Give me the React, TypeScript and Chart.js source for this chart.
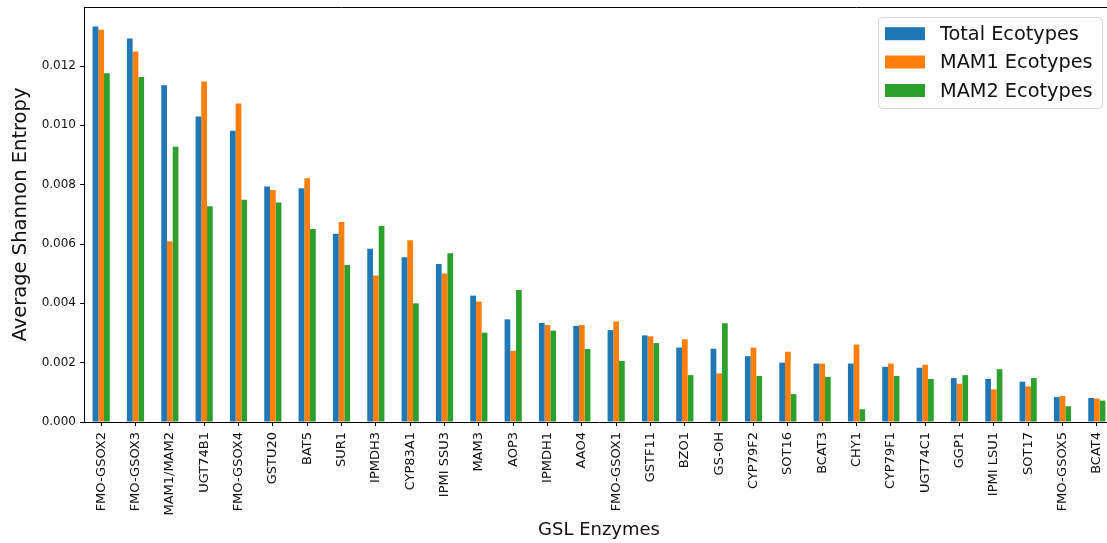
import React, { useEffect, useRef } from "react";
import { Chart, registerables } from "chart.js";

Chart.register(...registerables);

// GSL enzymes, sorted by average Shannon entropy across all ecotypes
const categories = [
  "FMO-GSOX2", "FMO-GSOX3", "MAM1/MAM2", "UGT74B1", "FMO-GSOX4", "GSTU20",
  "BAT5", "SUR1", "IPMDH3", "CYP83A1", "IPMI SSU3", "MAM3", "AOP3", "IPMDH1",
  "AAO4", "FMO-GSOX1", "GSTF11", "BZO1", "GS-OH", "CYP79F2", "SOT16", "BCAT3",
  "CHY1", "CYP79F1", "UGT74C1", "GGP1", "IPMI LSU1", "SOT17", "FMO-GSOX5", "BCAT4",
];

const totalEcotypes = [
  0.01333, 0.01293, 0.01135, 0.0103, 0.00982, 0.00794, 0.00788, 0.00635, 0.00584, 0.00555,
  0.00533, 0.00426, 0.00346, 0.00334, 0.00324, 0.0031, 0.00292, 0.00251, 0.00247, 0.00222,
  0.002, 0.00197, 0.00197, 0.00186, 0.00183, 0.00148, 0.00145, 0.00136, 0.00084, 0.00081,
];

const mam1Ecotypes = [
  0.01322, 0.01249, 0.00609, 0.01148, 0.01074, 0.00782, 0.00822, 0.00674, 0.00494, 0.00613,
  0.00501, 0.00406, 0.0024, 0.00327, 0.00327, 0.00339, 0.00289, 0.00279, 0.00164, 0.00251,
  0.00237, 0.00197, 0.00261, 0.00197, 0.00193, 0.00129, 0.0011, 0.0012, 0.00088, 0.00079,
];

const mam2Ecotypes = [
  0.01176, 0.01163, 0.00928, 0.00727, 0.00749, 0.0074, 0.00651, 0.00529, 0.00661, 0.004,
  0.00569, 0.00301, 0.00445, 0.00308, 0.00246, 0.00206, 0.00266, 0.00158, 0.00333, 0.00155,
  0.00094, 0.00152, 0.00043, 0.00155, 0.00145, 0.00158, 0.00178, 0.00148, 0.00053, 0.00072,
];

const seriesLabels = ["Total Ecotypes", "MAM1 Ecotypes", "MAM2 Ecotypes"];
const seriesColors = ["#1f77b4", "#ff7f0e", "#2ca02c"];
const yTickValues = [0, 0.002, 0.004, 0.006, 0.008, 0.01, 0.012];
const yMax = 0.01399;

const FONT = "'DejaVu Sans', 'Liberation Sans', sans-serif";
const CANVAS_W = 1125;
const CANVAS_H = 543;

// Frame line, axis titles and the legend box
const decorations = {
  id: "decorations",
  afterDraw(chart: any) {
    const { ctx, chartArea } = chart;
    const { left, top, right, bottom } = chartArea;
    ctx.save();

    // top spine
    ctx.strokeStyle = "#000";
    ctx.lineWidth = 1;
    ctx.beginPath();
    ctx.moveTo(left, Math.round(top) + 0.5);
    ctx.lineTo(right, Math.round(top) + 0.5);
    ctx.stroke();

    // axis titles
    ctx.fillStyle = "#111";
    ctx.textAlign = "center";
    ctx.textBaseline = "middle";
    ctx.font = `18px ${FONT}`;
    ctx.fillText("GSL Enzymes", (left + right) / 2, 530);

    ctx.save();
    ctx.translate(21, (top + bottom) / 2);
    ctx.rotate(-Math.PI / 2);
    ctx.font = `19.5px ${FONT}`;
    ctx.fillText("Average Shannon Entropy", 0, 0);
    ctx.restore();

    // legend
    const bx = 878.5, by = 17.5, bw = 224, bh = 91, r = 4;
    ctx.beginPath();
    ctx.moveTo(bx + r, by);
    ctx.lineTo(bx + bw - r, by);
    ctx.arcTo(bx + bw, by, bx + bw, by + r, r);
    ctx.lineTo(bx + bw, by + bh - r);
    ctx.arcTo(bx + bw, by + bh, bx + bw - r, by + bh, r);
    ctx.lineTo(bx + r, by + bh);
    ctx.arcTo(bx, by + bh, bx, by + bh - r, r);
    ctx.lineTo(bx, by + r);
    ctx.arcTo(bx, by, bx + r, by, r);
    ctx.closePath();
    ctx.fillStyle = "rgba(255,255,255,0.8)";
    ctx.fill();
    ctx.strokeStyle = "#d6d6d6";
    ctx.stroke();

    const rowY = [33.7, 62, 90.5];
    ctx.textAlign = "left";
    ctx.textBaseline = "middle";
    ctx.font = `19.3px ${FONT}`;
    chart.data.datasets.forEach((ds: any, i: number) => {
      ctx.fillStyle = ds.backgroundColor;
      ctx.fillRect(885, rowY[i] - 6.5, 40, 13);
      ctx.fillStyle = "#111";
      ctx.fillText(ds.label, 940, rowY[i] + 1);
    });

    ctx.restore();
  },
};

export default function App() {
  const canvasRef = useRef<HTMLCanvasElement | null>(null);

  useEffect(() => {
    const canvas = canvasRef.current;
    if (!canvas) return;
    const seriesData = [totalEcotypes, mam1Ecotypes, mam2Ecotypes];

    const chart = new Chart(canvas, {
      type: "bar",
      data: {
        labels: categories,
        datasets: seriesData.map((values, i) => ({
          label: seriesLabels[i],
          data: values,
          backgroundColor: seriesColors[i],
          borderWidth: 0,
          categoryPercentage: 0.5,
          barPercentage: 1.0,
        })),
      },
      options: {
        animation: false,
        responsive: false,
        devicePixelRatio: 1,
        layout: { padding: { top: 7, right: CANVAS_W - 1114, bottom: 0, left: 0 } },
        plugins: {
          legend: { display: false },
          tooltip: { enabled: false },
        },
        scales: {
          x: {
            offset: true,
            grid: {
              display: true,
              offset: false,
              drawOnChartArea: false,
              drawTicks: true,
              tickLength: 4,
              tickColor: "#000",
            },
            border: { display: true, color: "#000", width: 1 },
            ticks: {
              autoSkip: false,
              minRotation: 90,
              maxRotation: 90,
              padding: 6,
              color: "#111",
              font: { family: FONT, size: 13 },
            },
            afterFit(scale: any) {
              scale.height = CANVAS_H - 422;
              scale.paddingLeft = 0;
              scale.paddingRight = 0;
            },
          },
          y: {
            min: 0,
            max: yMax,
            grid: {
              display: true,
              drawOnChartArea: false,
              drawTicks: true,
              tickLength: 4,
              tickColor: "#000",
            },
            border: { display: true, color: "#000", width: 1 },
            ticks: {
              padding: 4,
              color: "#111",
              font: { family: FONT, size: 12 },
              callback: (v: any) => Number(v).toFixed(3),
            },
            afterBuildTicks(scale: any) {
              scale.ticks = yTickValues.map((v) => ({ value: v }));
            },
            afterFit(scale: any) {
              scale.width = 84;
              scale.paddingTop = 0;
              scale.paddingBottom = 0;
            },
          },
        },
      },
      plugins: [decorations],
    });

    return () => chart.destroy();
  }, []);

  return (
    <div style={{ position: "fixed", left: 0, top: 0, width: CANVAS_W, height: CANVAS_H, background: "#fff" }}>
      <canvas ref={canvasRef} width={CANVAS_W} height={CANVAS_H} />
    </div>
  );
}
